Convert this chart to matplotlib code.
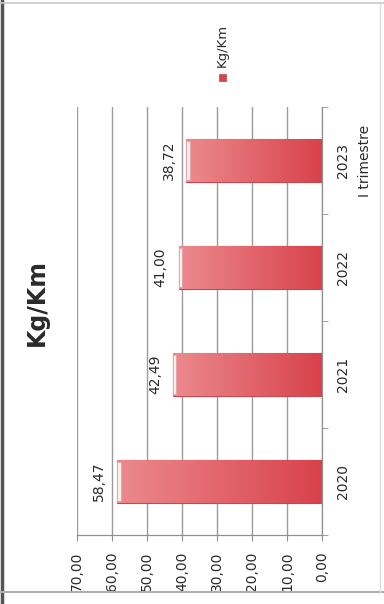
import matplotlib.pyplot as plt
import matplotlib.colors as mcolors
from matplotlib.patches import Rectangle
from matplotlib.lines import Line2D
from matplotlib.transforms import blended_transform_factory
import numpy as np

# DATA
years = ['2020', '2021', '2022', '2023']
kg_km = [58.47, 42.49, 41.00, 38.72]
value_ticks = [0, 10, 20, 30, 40, 50, 60, 70]
sub_label = 'I trimestre'
series_name = 'Kg/Km'

# STYLE
BAR_LIGHT = '#ec8a8e'
BAR_DARK = '#d8424a'
BAR_EDGE = '#c8464c'
GRID = '#9c9c9c'
TEXT = '#2a2a2a'


def fmt(v):
    return '{:.2f}'.format(v).replace('.', ',')


fig = plt.figure(figsize=(3.84, 6.04), dpi=100)
fig.patch.set_facecolor('white')
ax = fig.add_axes([77 / 384, 1 - 535 / 604, 245 / 384, 428 / 604])
ax.set_facecolor('none')

pos = np.arange(len(years))
bars = ax.barh(pos, kg_km, height=0.41, color=BAR_DARK,
               edgecolor=BAR_EDGE, linewidth=0.8, zorder=2)

# shaded fill for each bar, light at the tip, deep red at the base
cmap = mcolors.LinearSegmentedColormap.from_list('bar', [BAR_LIGHT, BAR_DARK])
grad = np.linspace(0, 1, 256).reshape(1, -1)
for b, v in zip(bars, kg_km):
    y0 = b.get_y()
    h = b.get_height()
    im = ax.imshow(grad, cmap=cmap, aspect='auto', zorder=2.5,
                   extent=(v, 0, y0, y0 + h), interpolation='bicubic')
    im.set_clip_path(b)
    # pale cap at the tip of the bar
    cap = Rectangle((v, y0 + h * 0.06), -0.9, h * 0.88,
                    facecolor='#fbeeee', edgecolor='#e8a0a4',
                    linewidth=0.6, zorder=3)
    ax.add_patch(cap)
    ax.annotate(fmt(v), xy=(v, y0 + h / 2), xytext=(-18, 0),
                textcoords='offset pixels', rotation=90,
                ha='center', va='center', fontsize=10, color=TEXT, zorder=4)
ax.set_xlim(70, 0)
ax.set_ylim(-0.5, len(years) - 0.5)

# grid and axes
ax.set_xticks(value_ticks)
ax.set_xticklabels([fmt(t) for t in value_ticks], rotation=90,
                   fontsize=10, color=TEXT)
ax.xaxis.grid(True, color=GRID, linewidth=1.0, zorder=0)
ax.set_axisbelow(True)
ax.tick_params(axis='x', length=4, color='#909090', pad=8)

ax.yaxis.tick_right()
ax.set_yticks(pos)
ax.set_yticklabels(years, rotation=90, fontsize=10, color=TEXT, va='center')
ax.set_yticks(np.arange(-0.5, len(years), 1), minor=True)
ax.tick_params(axis='y', which='major', length=0, pad=10)
ax.tick_params(axis='y', which='minor', length=4, color='#909090')

for side in ('left', 'top'):
    ax.spines[side].set_visible(False)
for side in ('right', 'bottom'):
    ax.spines[side].set_color('#909090')
    ax.spines[side].set_linewidth(0.9)

tr = blended_transform_factory(ax.transAxes, ax.transData)
ax.text(1.175, pos[-1], sub_label, transform=tr, rotation=90,
        ha='center', va='center', fontsize=10, color=TEXT)

# title
fig.text(37 / 384, 1 - 302 / 604, series_name, rotation=90, ha='center',
         va='center', fontsize=17, fontweight='bold', color=TEXT)

# legend
fig.add_artist(Rectangle((219 / 384, 1 - 81 / 604), 7 / 384, 7 / 604,
                         transform=fig.transFigure, facecolor=BAR_DARK,
                         edgecolor=BAR_EDGE, linewidth=0.5))
fig.text(222 / 384, 1 - 45 / 604, series_name, rotation=90, ha='center',
         va='center', fontsize=9.5, color=TEXT)

# frame around the picture
fig.add_artist(Line2D([1.5 / 384, 1.5 / 384], [0, 1], transform=fig.transFigure,
                      color='#555555', linewidth=2.5))
fig.add_artist(Line2D([0, 1], [1 - 3 / 604, 1 - 3 / 604], transform=fig.transFigure,
                      color='#c8c8c8', linewidth=1.2))
fig.add_artist(Line2D([0, 1], [1 - 592 / 604, 1 - 592 / 604], transform=fig.transFigure,
                      color='#b0b0b0', linewidth=1.5))
fig.add_artist(Line2D([380 / 384, 380 / 384], [1 - 592 / 604, 1 - 3 / 604],
                      transform=fig.transFigure, color='#dddddd', linewidth=1))

fig.savefig('out.png', dpi=100)
